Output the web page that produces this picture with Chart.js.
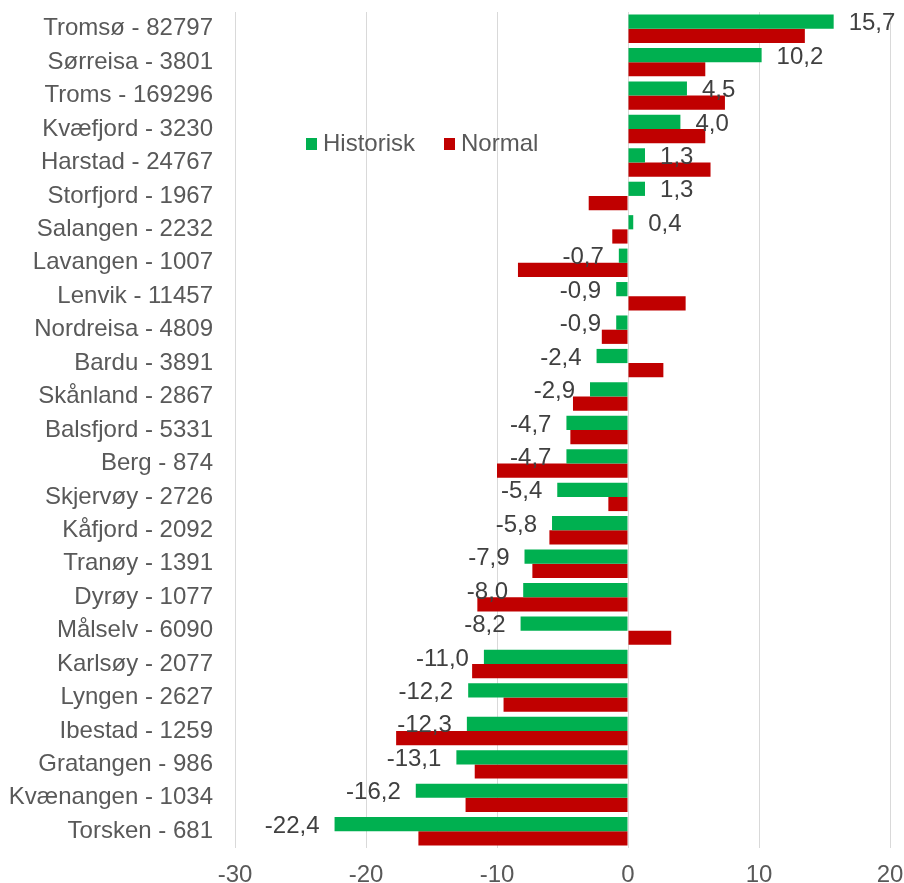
<!DOCTYPE html>
<html>
<head>
<meta charset="utf-8">
<script src="https://cdn.jsdelivr.net/npm/chart.js@4.4.1/dist/chart.umd.min.js"></script>
<style>
  html, body { margin: 0; padding: 0; background: #ffffff; }
  #wrap { width: 904px; height: 883px; position: relative; }
</style>
</head>
<body>
<div id="wrap"><canvas id="c" width="904" height="883"></canvas></div>
<script>
const categories = [
  "Tromsø - 82797", "Sørreisa - 3801", "Troms - 169296", "Kvæfjord - 3230",
  "Harstad - 24767", "Storfjord - 1967", "Salangen - 2232", "Lavangen - 1007",
  "Lenvik - 11457", "Nordreisa - 4809", "Bardu - 3891", "Skånland - 2867",
  "Balsfjord - 5331", "Berg - 874", "Skjervøy - 2726", "Kåfjord - 2092",
  "Tranøy - 1391", "Dyrøy - 1077", "Målselv - 6090", "Karlsøy - 2077",
  "Lyngen - 2627", "Ibestad - 1259", "Gratangen - 986", "Kvænangen - 1034",
  "Torsken - 681"
];
const historisk = [
  15.7, 10.2, 4.5, 4.0, 1.3, 1.3, 0.4, -0.7, -0.9, -0.9, -2.4, -2.9, -4.7,
  -4.7, -5.4, -5.8, -7.9, -8.0, -8.2, -11.0, -12.2, -12.3, -13.1, -16.2, -22.4
];
const normal = [
  13.5, 5.9, 7.4, 5.9, 6.3, -3.0, -1.2, -8.4, 4.4, -2.0, 2.7, -4.2, -4.4,
  -10.0, -1.5, -6.0, -7.3, -11.5, 3.3, -11.9, -9.5, -17.7, -11.7, -12.4, -16.0
];
const xTicks = [-30, -20, -10, 0, 10, 20];
const seriesNames = ["Historisk", "Normal"];

const FONT = "'Liberation Sans', Arial, sans-serif";
const FS = 24;

const dataLabels = {
  id: 'dataLabels',
  afterDatasetsDraw(chart) {
    const ctx = chart.ctx;
    const meta = chart.getDatasetMeta(0);
    const vals = chart.data.datasets[0].data;
    ctx.save();
    ctx.font = FS + "px " + FONT;
    ctx.fillStyle = '#404040';
    ctx.textBaseline = 'middle';
    meta.data.forEach((bar, i) => {
      const v = vals[i];
      const txt = v.toFixed(1).replace('.', ',');
      if (v >= 0) {
        ctx.textAlign = 'left';
        ctx.fillText(txt, bar.x + 15, bar.y + 2);
      } else {
        ctx.textAlign = 'right';
        ctx.fillText(txt, bar.x - 15, bar.y + 2);
      }
    });
    ctx.restore();
  }
};

const customLegend = {
  id: 'customLegend',
  afterDraw(chart) {
    const ctx = chart.ctx;
    const ds = chart.data.datasets;
    const items = [
      { x: 306, label: ds[0].label, color: ds[0].backgroundColor },
      { x: 444, label: ds[1].label, color: ds[1].backgroundColor }
    ];
    ctx.save();
    ctx.font = FS + "px " + FONT;
    ctx.textBaseline = 'middle';
    ctx.textAlign = 'left';
    items.forEach(it => {
      ctx.fillStyle = it.color;
      ctx.fillRect(it.x, 138, 11, 12);
      ctx.fillStyle = '#595959';
      ctx.fillText(it.label, it.x + 17, 144);
    });
    ctx.restore();
  }
};

new Chart(document.getElementById('c'), {
  type: 'bar',
  data: {
    labels: categories,
    datasets: [
      { label: seriesNames[0], data: historisk, backgroundColor: '#00B050',
        categoryPercentage: 0.85, barPercentage: 1.0 },
      { label: seriesNames[1], data: normal, backgroundColor: '#C00000',
        categoryPercentage: 0.85, barPercentage: 1.0 }
    ]
  },
  options: {
    indexAxis: 'y',
    responsive: false,
    animation: false,
    devicePixelRatio: 1,
    layout: { padding: { top: 12, right: 14, bottom: 0, left: 0 } },
    plugins: {
      legend: { display: false },
      tooltip: { enabled: false }
    },
    scales: {
      x: {
        min: -30, max: 20,
        afterBuildTicks(scale) { scale.ticks = xTicks.map(v => ({ value: v })); },
        afterFit(scale) {
          scale.height = 35;
          scale.paddingLeft = 0; scale.paddingRight = 0;
          scale.paddingTop = 0; scale.paddingBottom = 0;
        },
        grid: { color: '#d9d9d9', lineWidth: 1, drawTicks: false },
        border: { display: false },
        ticks: {
          padding: 13,
          color: '#595959',
          font: { family: FONT, size: FS },
          maxRotation: 0
        }
      },
      y: {
        afterFit(scale) {
          scale.width = 235;
          scale.paddingTop = 0; scale.paddingBottom = 0;
          scale.paddingLeft = 0; scale.paddingRight = 0;
        },
        grid: { display: false, drawTicks: false },
        border: { display: false },
        ticks: {
          padding: 22,
          color: '#595959',
          font: { family: FONT, size: FS },
          autoSkip: false
        }
      }
    }
  },
  plugins: [dataLabels, customLegend]
});
</script>
</body>
</html>
